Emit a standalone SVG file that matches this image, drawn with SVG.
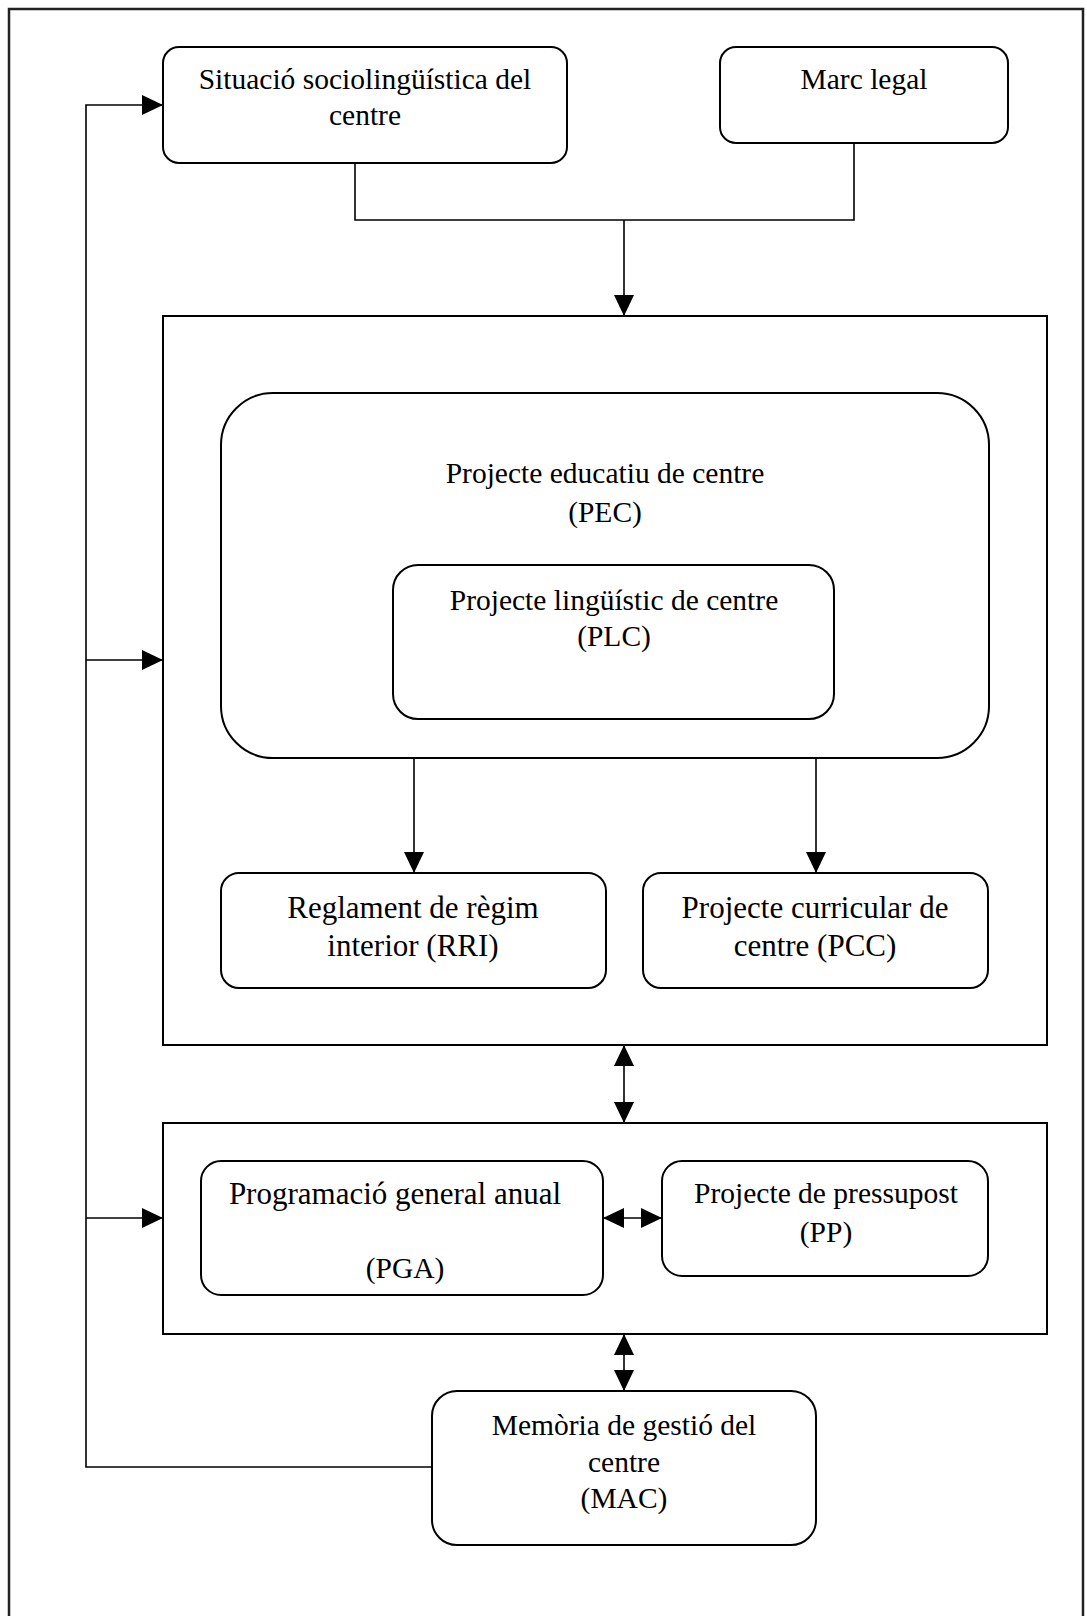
<svg xmlns="http://www.w3.org/2000/svg" width="1087" height="1616" viewBox="0 0 1087 1616">
<style>
.box{fill:#fff;stroke:#000;stroke-width:2}
.cont{fill:none;stroke:#000;stroke-width:2}
.frame{fill:none;stroke:#222;stroke-width:2.5}
.con{fill:none;stroke:#000;stroke-width:1.6}
.g{font-family:"Liberation Serif","Times New Roman",serif;font-size:29.5px;fill:#000;text-anchor:middle}
.t{font-family:"Liberation Serif","Times New Roman",serif;font-size:31px;fill:#000;text-anchor:middle}
</style>
<defs>
<marker id="ah" viewBox="0 0 21 20" refX="21" refY="10" markerWidth="21" markerHeight="20" markerUnits="userSpaceOnUse" orient="auto-start-reverse">
<path d="M0,0 L21,10 L0,20 z" fill="#000"/>
</marker>
</defs>
<path class="frame" d="M9,1616 V9 H1083 V1616"/>
<g id="situacio">
<rect class="box" x="163" y="47" width="404" height="116" rx="16"/>
<text class="g" x="365" y="89">Situació sociolingüística del</text>
<text class="g" x="365" y="125">centre</text>
</g>
<g id="marc-legal">
<rect class="box" x="720" y="47" width="288" height="96" rx="16"/>
<text class="g" x="864" y="89">Marc legal</text>
</g>
<g id="container-projectes">
<rect class="cont" x="163" y="316" width="884" height="729"/>
</g>
<g id="pec">
<rect class="box" x="221" y="393" width="768" height="365" rx="52"/>
<text class="g" x="605" y="483">Projecte educatiu de centre</text>
<text class="g" x="605" y="522">(PEC)</text>
</g>
<g id="plc">
<rect class="box" x="393" y="565" width="441" height="154" rx="25"/>
<text class="g" x="614" y="610">Projecte lingüístic de centre</text>
<text class="g" x="614" y="646">(PLC)</text>
</g>
<g id="rri">
<rect class="box" x="221" y="873" width="385" height="115" rx="18"/>
<text class="t" x="413" y="918">Reglament de règim</text>
<text class="t" x="413" y="956">interior (RRI)</text>
</g>
<g id="pcc">
<rect class="box" x="643" y="873" width="345" height="115" rx="18"/>
<text class="t" x="815" y="918">Projecte curricular de</text>
<text class="t" x="815" y="956">centre (PCC)</text>
</g>
<g id="container-programacio">
<rect class="cont" x="163" y="1123" width="884" height="211"/>
</g>
<g id="pga">
<rect class="box" x="201" y="1161" width="402" height="134" rx="20"/>
<text class="t" x="395" y="1204">Programació general anual</text>
<text class="g" x="405" y="1278">(PGA)</text>
</g>
<g id="pp">
<rect class="box" x="662" y="1161" width="326" height="115" rx="20"/>
<text class="g" x="826" y="1203">Projecte de pressupost</text>
<text class="g" x="826" y="1242">(PP)</text>
</g>
<g id="mac">
<rect class="box" x="432" y="1391" width="384" height="154" rx="25"/>
<text class="g" x="624" y="1435">Memòria de gestió del</text>
<text class="g" x="624" y="1472">centre</text>
<text class="g" x="624" y="1508">(MAC)</text>
</g>
<g id="connectors">
<path class="con" d="M355,163 V220 H854 V143"/>
<path class="con" d="M624,220 V316" marker-end="url(#ah)"/>
<path class="con" d="M432,1467 H86 V105 H163" marker-end="url(#ah)"/>
<path class="con" d="M86,660 H163" marker-end="url(#ah)"/>
<path class="con" d="M86,1218 H163" marker-end="url(#ah)"/>
<path class="con" d="M414,758 V873" marker-end="url(#ah)"/>
<path class="con" d="M816,758 V873" marker-end="url(#ah)"/>
<path class="con" d="M624,1045 V1123" marker-start="url(#ah)" marker-end="url(#ah)"/>
<path class="con" d="M603,1218 H662" marker-start="url(#ah)" marker-end="url(#ah)"/>
<path class="con" d="M624,1334 V1391" marker-start="url(#ah)" marker-end="url(#ah)"/>
</g>
</svg>
